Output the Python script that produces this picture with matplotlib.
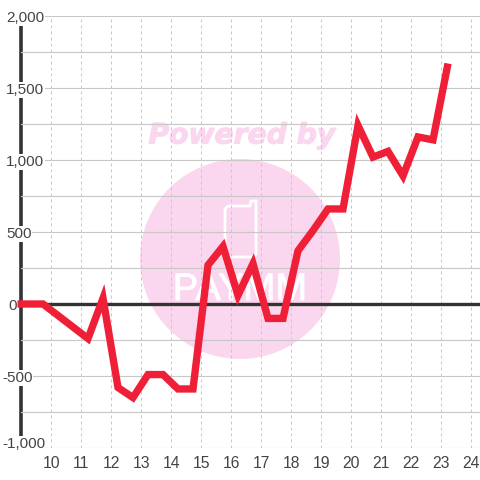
import matplotlib
matplotlib.use("Agg")
import matplotlib.pyplot as plt
import matplotlib.patheffects as pe
from matplotlib.patches import Ellipse, PathPatch
from matplotlib.path import Path
from matplotlib.transforms import ScaledTranslation

plt.rcParams['font.family'] = ['Liberation Sans', 'DejaVu Sans']

hours = [8.9, 9.75, 10.25, 10.75, 11.25, 11.75, 12.25, 12.75, 13.25, 13.75, 14.25, 14.75,
         15.25, 15.75, 16.25, 16.75, 17.25, 17.75, 18.25, 18.75, 19.25, 19.75,
         20.25, 20.75, 21.25, 21.75, 22.25, 22.75, 23.25]
values = [0, 0, -80, -160, -240, 40, -580, -650, -490, -490, -590, -590,
          270, 400, 60, 280, -100, -100, 370, 510, 660, 660,
          1240, 1020, 1060, 890, 1160, 1140, 1670]
x_ticks = list(range(10, 25))
y_major = [-1000, -500, 0, 500, 1000, 1500, 2000]
y_major_labels = ['-1,000', '-500', '0', '500', '1,000', '1,500', '2,000']
y_minor = [-750, -250, 250, 750, 1250, 1750]

TEXT = '#444444'
GRID = '#c8c8c8'
DARK = '#333333'
RED = '#f01f38'
PINK = '#fbd6ef'

fig = plt.figure(figsize=(4.8, 4.8), dpi=100, facecolor='white')
L, R, T, B = 20.5, 480, 16, 448
ax = fig.add_axes([L/480, 1-B/480, (R-L)/480, (B-T)/480])
ax.set_xlim(9, 9 + (R-L)/30)
ax.set_ylim(-1000, 2000)
ax.set_axisbelow('line')
for s in ax.spines.values():
    s.set_visible(False)

ax.set_xticks(x_ticks)
ax.set_yticks(y_major)
ax.set_yticklabels(y_major_labels)
ax.set_yticks(y_minor, minor=True)
ax.grid(True, axis='y', which='both', color=GRID, lw=0.85, ls='-')
ax.grid(True, axis='x', which='major', color=GRID, lw=0.72, ls=(0, (3, 3)))
ax.tick_params(axis='both', which='both', length=0)
ax.tick_params(axis='x', labelsize=11.3, labelcolor=TEXT, pad=5.5)
ax.tick_params(axis='y', labelsize=11, labelcolor=TEXT, pad=0)
for lab in ax.get_xticklabels():
    lab.set_transform(lab.get_transform() + ScaledTranslation(0.8/100, 0, fig.dpi_scale_trans))

offsets = {-1000: (2, 6), -500: (2, 0), 0: (8, 0), 500: (6, 0), 1000: (6, 0), 1500: (6, 0), 2000: (6, -0.5)}
for tick, v in zip(ax.yaxis.get_major_ticks(), y_major):
    lab = tick.label1
    dx, dy = offsets[v]
    lab.set_ha('left')
    lab.set_va('center')
    lab.set_bbox(dict(facecolor='white', edgecolor='none', pad=0.6))
    lab.set_transform(ax.get_yaxis_transform(which='grid')
                      + ScaledTranslation((dx - L)/100, (dy - 2)/100, fig.dpi_scale_trans))

ax.axvline(9, color=DARK, lw=2.6, zorder=1.2, clip_on=False)

# watermark sits under the grid
X = lambda p: 9 + (p - L)/30
Y = lambda p: 2000 - (p - T)*3000/(B - T)
ax.add_patch(Ellipse((X(240), Y(259)), 200/30, 200*3000/(B-T), color=PINK, lw=0, zorder=0.5))
phone = [(228, 206), (250, 206), (251, 201), (256, 201), (256, 254), (253, 257),
         (228, 257), (225, 254), (225, 209), (228, 206)]
ax.add_patch(PathPatch(Path([(X(a), Y(b)) for a, b in phone], closed=False),
                       fc='none', ec='white', lw=2, zorder=0.6))
ax.text(X(240), Y(290), 'PAYMM', color='white', fontsize=27.5, ha='center', va='center', zorder=0.6,
        path_effects=[pe.withStroke(linewidth=0.6, foreground='white')])
ax.text(X(242), Y(135.5), 'Powered by', color=PINK, fontsize=20.3, fontweight='bold', style='italic',
        ha='center', va='center', zorder=0.5, family=['DejaVu Sans'],
        path_effects=[pe.withStroke(linewidth=0.8, foreground=PINK)])

ax.axhline(0, color=DARK, lw=2.4, zorder=1.8)
ax.plot(hours, values, color=RED, lw=5.3, solid_joinstyle='miter', solid_capstyle='butt',
        zorder=3, clip_on=False)

fig.savefig('out.png', dpi=100)
